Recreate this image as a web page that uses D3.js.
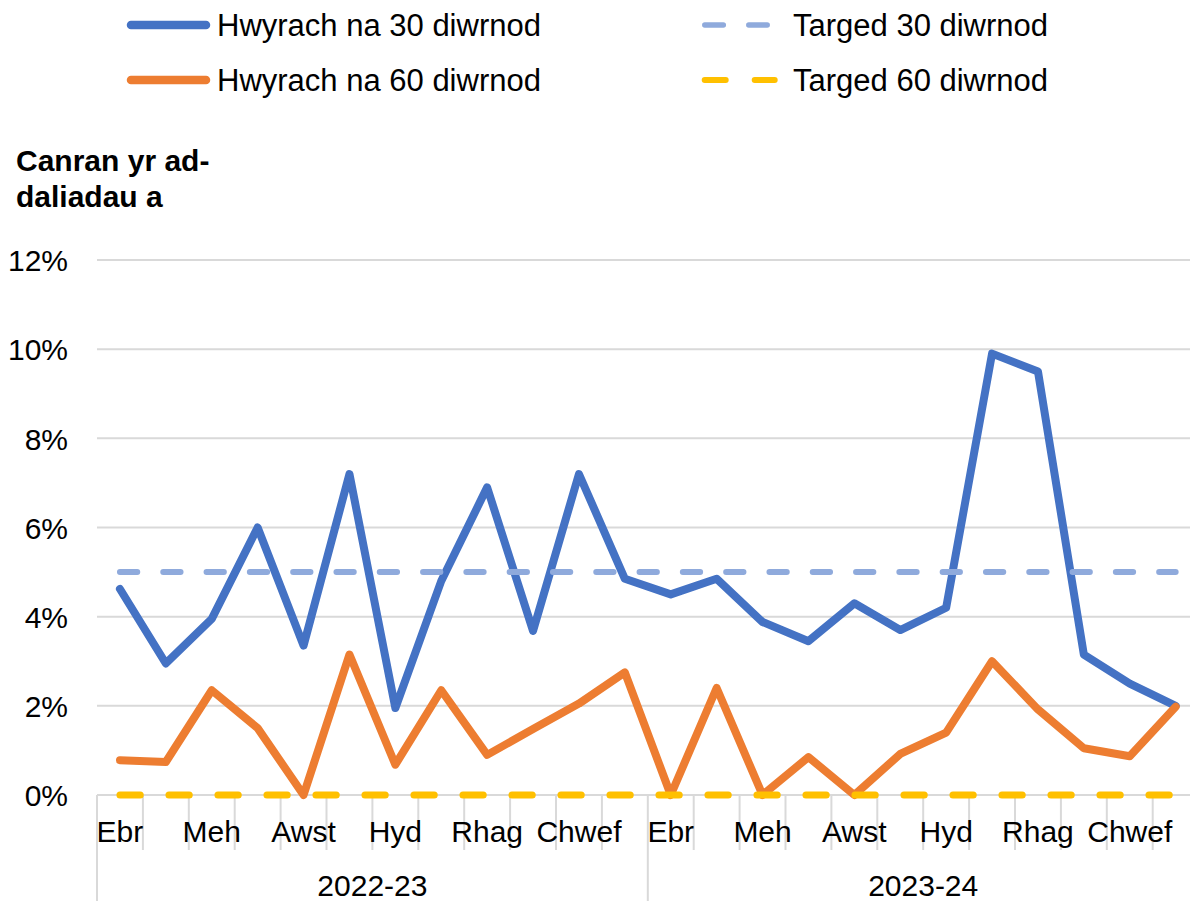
<!DOCTYPE html>
<html>
<head>
<meta charset="utf-8">
<script src="https://cdn.jsdelivr.net/npm/d3@7"></script>
<style>
  body { margin: 0; background: #fff; }
  svg { display: block; font-family: "Liberation Sans", Arial, sans-serif; }
</style>
</head>
<body>
<div id="container"></div>
<script>
const width = 1190;
const height = 901;

// ---------------------------- DATA ----------------------------
const years = ["2022-23", "2023-24"];
const months = ["Ebr", "Mai", "Meh", "Gorff", "Awst", "Medi", "Hyd", "Tach", "Rhag", "Ion", "Chwef", "Maw"];

// percentage of payments later than 30 / 60 days
const late30 = [4.62, 2.95, 3.95, 6.0, 3.35, 7.2, 1.95, 4.8, 6.9, 3.68, 7.2, 4.85,
                4.5, 4.85, 3.88, 3.45, 4.3, 3.7, 4.2, 9.9, 9.5, 3.15, 2.5, 2.0];
const late60 = [0.78, 0.74, 2.35, 1.5, 0.0, 3.15, 0.68, 2.35, 0.9, 1.48, 2.05, 2.75,
                0.0, 2.4, 0.0, 0.85, 0.0, 0.92, 1.4, 3.0, 1.92, 1.05, 0.87, 1.98];
const target30 = 5;
const target60 = 0;

const yTicks = [0, 2, 4, 6, 8, 10, 12];
const titleLines = ["Canran yr ad-", "daliadau a"];
const legendNames = ["Hwyrach na 30 diwrnod", "Hwyrach na 60 diwrnod", "Targed 30 diwrnod", "Targed 60 diwrnod"];

const cats = [];
years.forEach(yr => months.forEach(m => cats.push({ key: yr + "|" + m, year: yr, month: m })));

// --------------------------- SCALES ---------------------------
const plotLeft = 97, plotRight = 1198.6, plotTop = 260, plotBottom = 795;
const x = d3.scaleBand().domain(cats.map(c => c.key)).range([plotLeft, plotRight]).padding(0);
const y = d3.scaleLinear().domain([0, 12]).range([plotBottom, plotTop]);
const cx = k => x(k) + x.bandwidth() / 2;

const blue = "#4472C4", orange = "#ED7D31", lightBlue = "#8FAADC", yellow = "#FFC000", grid = "#d9d9d9";

const svg = d3.select("#container").append("svg")
  .attr("width", width)
  .attr("height", height);

// --------------------------- GRID -----------------------------
svg.append("g").selectAll("line")
  .data(yTicks)
  .enter().append("line")
  .attr("x1", plotLeft).attr("x2", plotRight)
  .attr("y1", d => y(d)).attr("y2", d => y(d))
  .attr("stroke", grid).attr("stroke-width", 2);

// y axis labels
const yaxis = d3.axisLeft(y).tickValues(yTicks).tickFormat(d => d + "%").tickSize(0).tickPadding(29);
svg.append("g")
  .attr("transform", "translate(" + plotLeft + ",0)")
  .call(yaxis)
  .call(g => g.select(".domain").remove())
  .call(g => g.selectAll("text").attr("font-size", 30).attr("fill", "#000")
    .attr("font-family", "Liberation Sans, Arial, sans-serif").attr("dy", "0.36em"));

// x category boundary ticks
const boundaries = cats.map(c => x(c.key)).concat([plotRight]);
svg.append("g").selectAll("line")
  .data(boundaries)
  .enter().append("line")
  .attr("x1", d => d).attr("x2", d => d)
  .attr("y1", plotBottom)
  .attr("y2", (d, i) => (i % 12 === 0) ? height : 850)
  .attr("stroke", grid).attr("stroke-width", 2);

// month labels (every other month)
const xaxis = d3.axisBottom(x)
  .tickValues(cats.filter((c, i) => i % 2 === 0).map(c => c.key))
  .tickFormat(k => k.split("|")[1])
  .tickSize(0);
svg.append("g")
  .attr("transform", "translate(0," + plotBottom + ")")
  .call(xaxis)
  .call(g => g.select(".domain").remove())
  .call(g => g.selectAll("text").attr("font-size", 30).attr("fill", "#000")
    .attr("font-family", "Liberation Sans, Arial, sans-serif")
    .attr("y", 46.7).attr("dy", 0));

// year labels
svg.append("g").selectAll("text")
  .data(years)
  .enter().append("text")
  .attr("x", yr => {
    const ks = cats.filter(c => c.year === yr).map(c => c.key);
    return (x(ks[0]) + x(ks[ks.length - 1]) + x.bandwidth()) / 2;
  })
  .attr("y", 896)
  .attr("text-anchor", "middle")
  .attr("font-size", 30)
  .text(d => d);

// --------------------------- LINES ----------------------------
const line = d3.line()
  .x(d => cx(d.key))
  .y(d => y(d.v));

const series = [
  { values: late30, color: blue, w: 8, dash: null },
  { values: late60, color: orange, w: 8, dash: null },
  { values: cats.map(() => target30), color: lightBlue, w: 6, dash: "17.3,26" },
  { values: cats.map(() => target60), color: yellow, w: 7, dash: "20.3,28.7" }
];

svg.append("g").selectAll("path")
  .data(series)
  .enter().append("path")
  .attr("d", s => line(s.values.map((v, i) => ({ key: cats[i].key, v: v }))))
  .attr("fill", "none")
  .attr("stroke", s => s.color)
  .attr("stroke-width", s => s.w)
  .attr("stroke-linejoin", "round")
  .attr("stroke-linecap", "round")
  .attr("stroke-dasharray", s => s.dash);

// -------------------------- TITLE -----------------------------
svg.append("g").selectAll("text")
  .data(titleLines)
  .enter().append("text")
  .attr("x", 16)
  .attr("y", (d, i) => 170.7 + i * 36.6)
  .attr("font-size", 30)
  .attr("font-weight", "bold")
  .text(d => d);

// -------------------------- LEGEND ----------------------------
const legendItems = [
  { name: legendNames[0], color: blue, x1: 131, x2: 206, w: 8.5, dash: null, col: 0, row: 0 },
  { name: legendNames[1], color: orange, x1: 131, x2: 206, w: 8.5, dash: null, col: 0, row: 1 },
  { name: legendNames[2], color: lightBlue, x1: 704.8, x2: 767.2, w: 5.5, dash: "18.5,25.5", col: 1, row: 0 },
  { name: legendNames[3], color: yellow, x1: 704.7, x2: 774.7, w: 6, dash: "21,29", col: 1, row: 1 }
];
const legendRowY = [25, 80];
const legendTextX = [217, 793];

const lg = svg.append("g").selectAll("g")
  .data(legendItems)
  .enter().append("g");

lg.append("line")
  .attr("x1", d => d.x1).attr("x2", d => d.x2)
  .attr("y1", d => legendRowY[d.row]).attr("y2", d => legendRowY[d.row])
  .attr("stroke", d => d.color)
  .attr("stroke-width", d => d.w)
  .attr("stroke-linecap", "round")
  .attr("stroke-dasharray", d => d.dash);

lg.append("text")
  .attr("x", d => legendTextX[d.col])
  .attr("y", d => legendRowY[d.row] + 11)
  .attr("font-size", 31)
  .text(d => d.name);
</script>
</body>
</html>
